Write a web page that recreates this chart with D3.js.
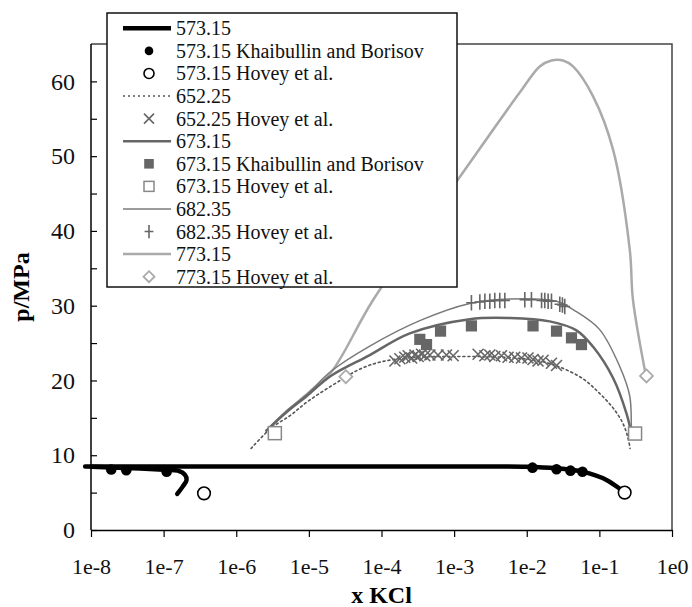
<!DOCTYPE html>
<html>
<head>
<meta charset="utf-8">
<script src="https://cdn.jsdelivr.net/npm/d3@7"></script>
<style>
  body { margin: 0; background: #fff; }
  svg text { font-family: "Liberation Serif", "Times New Roman", Times, "DejaVu Serif", serif; }
</style>
</head>
<body>
<div id="chart"></div>
<script>
// ---- data (x = mole fraction KCl, p in MPa) ----
const line573 = [[8.3e-9, 8.48], [1e-4, 8.48], [1e-3, 8.48], [0.01, 8.47], [0.0257, 8.25], [0.058, 7.8], [0.125, 6.7], [0.223, 5.0]];
const branch573 = [[1e-8, 8.45], [3e-8, 8.3], [1e-7, 8.05], [1.57e-7, 7.94], [1.97e-7, 7.37], [2.07e-7, 6.7], [1.83e-7, 5.8], [1.54e-7, 4.82]];
const khai573 = [[1.9e-8, 8.1], [3.06e-8, 8.0], [1.1e-7, 7.8], [0.012, 8.34], [0.0257, 8.13], [0.04, 7.94], [0.0585, 7.8]];
const hovey573 = [[3.6e-7, 4.9], [0.223, 5.0]];

const line652 = [[1.6e-6, 10.9], [3e-6, 13.6], [5.5e-6, 15.3], [1e-5, 17.3], [2.7e-5, 20.0], [5e-5, 21.5], [1e-4, 22.5], [3e-4, 23.1], [1e-3, 23.2], [5e-3, 23.1], [0.015, 22.6], [0.03, 21.7], [0.06, 20.2], [0.1, 18.3], [0.155, 16.3], [0.21, 14.3], [0.245, 12.5], [0.265, 10.9]];
const hovey652 = [[1.53e-4, 22.6], [1.79e-4, 22.9], [2.09e-4, 23.1], [2.33e-4, 23.3], [2.6e-4, 23.0], [2.88e-4, 23.4], [3.2e-4, 23.2], [3.56e-4, 23.5], [3.95e-4, 23.3], [4.64e-4, 23.4], [6.0e-4, 23.4], [7.85e-4, 23.4], [9.7e-4, 23.3], [2.14e-3, 23.5], [2.65e-3, 23.3], [3.1e-3, 23.4], [3.63e-3, 23.2], [4.49e-3, 23.3], [5.53e-3, 23.1], [6.84e-3, 23.1], [8.46e-3, 23.0], [0.0104, 23.0], [0.0122, 22.8], [0.0143, 22.6], [0.0168, 22.7], [0.0219, 22.3], [0.0257, 22.0]];

const line673 = [[2.6e-6, 13.3], [5e-6, 15.8], [9.3e-6, 17.9], [2e-5, 20.6], [6.9e-5, 23.4], [2.45e-4, 26.3], [1.64e-3, 28.2], [5.85e-3, 28.35], [0.0207, 27.9], [0.0483, 26.7], [0.082, 24.5], [0.155, 20.3], [0.236, 15.6], [0.276, 12.9]];
const khai673 = [[3.37e-4, 25.5], [4.17e-4, 24.8], [6.5e-4, 26.6], [1.73e-3, 27.3], [0.0122, 27.3], [0.0257, 26.6], [0.0413, 25.7], [0.0567, 24.8]];
const hovey673 = [[3.4e-6, 12.95], [0.31, 12.9]];

const line682 = [[2.6e-6, 13.3], [5e-6, 16.0], [9.3e-6, 18.1], [2e-5, 21.2], [6.9e-5, 24.6], [3.37e-4, 28.0], [1.64e-3, 30.3], [5.85e-3, 30.9], [0.0257, 30.6], [0.0483, 29.2], [0.101, 26.8], [0.19, 21.9], [0.262, 17.9], [0.276, 13.8], [0.28, 12.7]];
const hovey682 = [[1.73e-3, 30.4], [2.26e-3, 30.5], [2.65e-3, 30.6], [3.1e-3, 30.6], [3.63e-3, 30.7], [4.25e-3, 30.7], [4.99e-3, 30.7], [9.4e-3, 30.8], [0.0116, 30.8], [0.016, 30.7], [0.0177, 30.7], [0.0197, 30.6], [0.0219, 30.6], [0.0285, 30.2], [0.031, 30.1], [0.0334, 29.9]];

const line773 = [[2.6e-6, 13.3], [5e-6, 15.9], [1e-5, 18.4], [2.06e-5, 21.2], [7.7e-5, 30.8], [1.08e-3, 46.6], [8e-3, 58.5], [0.0151, 62.0], [0.0219, 62.8], [0.0316, 62.8], [0.0434, 62.0], [0.0819, 58.0], [0.154, 50.9], [0.262, 37.5], [0.29, 30.8], [0.43, 21.0]];
const hovey773 = [[3.23e-5, 20.5], [0.445, 20.6]];

const xTicks = [1e-8, 1e-7, 1e-6, 1e-5, 1e-4, 1e-3, 1e-2, 1e-1, 1];
const xTickLabels = ["1e-8", "1e-7", "1e-6", "1e-5", "1e-4", "1e-3", "1e-2", "1e-1", "1e0"];
const yTicks = [0, 5, 10, 15, 20, 25, 30, 35, 40, 45, 50, 55, 60];

const legendLabels = [
  "573.15", "573.15 Khaibullin and Borisov", "573.15 Hovey et al.",
  "652.25", "652.25 Hovey et al.",
  "673.15", "673.15 Khaibullin and Borisov", "673.15 Hovey et al.",
  "682.35", "682.35 Hovey et al.",
  "773.15", "773.15 Hovey et al."
];

const serif = "'Liberation Serif', 'Times New Roman', Times, 'DejaVu Serif', serif";

function drawChart() {
  const fullWidth = 692,
    fullHeight = 607;
  const plot = { left: 91, right: 672, top: 44, bottom: 530 };

  const svg = d3
    .select("#chart")
    .append("svg")
    .attr("width", fullWidth)
    .attr("height", fullHeight)
    .attr("font-family", serif);

  const x = d3.scaleLog().domain([1e-8, 1]).range([plot.left, plot.right]);
  const y = d3.scaleLinear().domain([0, 65]).range([plot.bottom, plot.top]);

  const line = d3
    .line()
    .x((d) => x(d[0]))
    .y((d) => y(d[1]))
    .curve(d3.curveCatmullRom.alpha(0.5));

  // frame (top + right)
  svg
    .append("path")
    .attr("d", `M${plot.left},${plot.top}H${plot.right}V${plot.bottom}`)
    .attr("fill", "none")
    .attr("stroke", "#444")
    .attr("stroke-width", 1.5);

  // curves
  const curves = [
    { data: line773, color: "#aaa", width: 2.5, dash: null },
    { data: line682, color: "#7a7a7a", width: 1.5, dash: null },
    { data: line673, color: "#666", width: 2.5, dash: null },
    { data: line652, color: "#555", width: 1.6, dash: "2,3" },
    { data: line573, color: "#000", width: 4.5, dash: null },
    { data: branch573, color: "#000", width: 4.5, dash: null },
  ];

  svg
    .selectAll("path.curve")
    .data(curves)
    .enter()
    .append("path")
    .attr("class", "curve")
    .attr("d", (d) => line(d.data))
    .attr("fill", "none")
    .attr("stroke", (d) => d.color)
    .attr("stroke-width", (d) => d.width)
    .attr("stroke-dasharray", (d) => d.dash)
    .attr("stroke-linecap", "round");

  // marker helpers
  function drawMarker(g, type, s) {
    if (type === "dot") {
      g.append("circle").attr("r", s).attr("fill", "#000");
    } else if (type === "circle") {
      g.append("circle").attr("r", s).attr("fill", "#fff").attr("stroke", "#000").attr("stroke-width", 1.6);
    } else if (type === "cross") {
      g.append("path")
        .attr("d", `M${-s},${-s}L${s},${s}M${-s},${s}L${s},${-s}`)
        .attr("stroke", "#666").attr("stroke-width", 1.6).attr("fill", "none");
    } else if (type === "fsquare") {
      g.append("rect").attr("x", -s).attr("y", -s).attr("width", 2 * s).attr("height", 2 * s).attr("fill", "#666");
    } else if (type === "osquare") {
      g.append("rect").attr("x", -s).attr("y", -s).attr("width", 2 * s).attr("height", 2 * s)
        .attr("fill", "#fff").attr("stroke", "#888").attr("stroke-width", 1.5);
    } else if (type === "plus") {
      g.append("path")
        .attr("d", `M${-s * 0.8},0H${s * 0.8}M0,${-s * 1.2}V${s * 1.2}`)
        .attr("stroke", "#666").attr("stroke-width", 1.6).attr("fill", "none");
    } else if (type === "diamond") {
      g.append("path")
        .attr("d", `M0,${-s}L${s},0L0,${s}L${-s},0Z`)
        .attr("fill", "#fff").attr("stroke", "#aaa").attr("stroke-width", 1.8);
    }
  }

  const markerSets = [
    { data: hovey773, type: "diamond", size: 6.5 },
    { data: hovey673, type: "osquare", size: 6.5 },
    { data: khai673, type: "fsquare", size: 5.6 },
    { data: hovey682, type: "plus", size: 6.5 },
    { data: hovey652, type: "cross", size: 5.5 },
    { data: khai573, type: "dot", size: 5.3 },
    { data: hovey573, type: "circle", size: 6.3 },
  ];

  markerSets.forEach((set) => {
    svg
      .append("g")
      .selectAll("g")
      .data(set.data)
      .enter()
      .append("g")
      .attr("transform", (d) => `translate(${x(d[0])},${y(d[1])})`)
      .each(function () {
        drawMarker(d3.select(this), set.type, set.size);
      });
  });

  // axes
  const xAxis = svg
    .append("g")
    .attr("transform", `translate(0,${plot.bottom})`)
    .call(
      d3.axisBottom(x)
        .tickValues(xTicks)
        .tickFormat((d, i) => xTickLabels[i])
        .tickSize(7)
        .tickSizeOuter(0)
        .tickPadding(21)
    )
    .attr("font-family", serif);
  xAxis.select(".domain").attr("stroke", "#000").attr("stroke-width", 1.5);
  xAxis.selectAll(".tick line").attr("stroke", "#000").attr("stroke-width", 1.2);
  xAxis.selectAll(".tick text")
    .attr("fill", "#111")
    .attr("font-size", 22)
    .attr("font-family", serif);

  const yAxis = svg
    .append("g")
    .attr("transform", `translate(${plot.left},0)`)
    .call(
      d3.axisLeft(y)
        .tickValues(yTicks)
        .tickFormat((d) => (d % 10 === 0 ? d : ""))
        .tickSize(-6)
        .tickSizeOuter(0)
        .tickPadding(16)
    )
    .attr("font-family", serif);
  yAxis.select(".domain").attr("stroke", "#000").attr("stroke-width", 1.5)
    .attr("d", `M0,${plot.bottom}V${plot.top}`);
  yAxis.selectAll(".tick line").attr("stroke", "#000").attr("stroke-width", 1.2);
  yAxis.selectAll(".tick text")
    .attr("fill", "#111")
    .attr("font-size", 24)
    .attr("font-family", serif);

  // axis titles
  svg
    .append("text")
    .attr("x", (plot.left + plot.right) / 2)
    .attr("y", 603)
    .attr("font-family", serif)
    .style("text-anchor", "middle")
    .style("font-size", "24px")
    .style("font-weight", "bold")
    .text("x KCl");

  svg
    .append("text")
    .attr("transform", "rotate(-90)")
    .attr("x", -(plot.top + plot.bottom) / 2)
    .attr("y", 29)
    .attr("font-family", serif)
    .style("text-anchor", "middle")
    .style("font-size", "24px")
    .style("font-weight", "bold")
    .text("p/MPa");

  // legend
  const legendBox = { x: 107, y: 13, w: 350, h: 274 };
  const legend = svg.append("g");
  legend
    .append("rect")
    .attr("x", legendBox.x)
    .attr("y", legendBox.y)
    .attr("width", legendBox.w)
    .attr("height", legendBox.h)
    .attr("fill", "#fff")
    .attr("stroke", "#111")
    .attr("stroke-width", 1.5);

  const legendItems = [
    { kind: "line", color: "#000", width: 4.5 },
    { kind: "dot", size: 4.3 },
    { kind: "circle", size: 5 },
    { kind: "line", color: "#555", width: 1.6, dash: "2,3" },
    { kind: "cross", size: 5 },
    { kind: "line", color: "#666", width: 2.5 },
    { kind: "fsquare", size: 4.8 },
    { kind: "osquare", size: 5 },
    { kind: "line", color: "#7a7a7a", width: 1.5 },
    { kind: "plus", size: 5.5 },
    { kind: "line", color: "#aaa", width: 2.5 },
    { kind: "diamond", size: 5.5 },
  ];

  const rowY = d3.scaleLinear().domain([0, 11]).range([28.3, 276.7]);

  legendItems.forEach((item, i) => {
    const cy = rowY(i);
    if (item.kind === "line") {
      legend
        .append("line")
        .attr("x1", 123)
        .attr("x2", 171)
        .attr("y1", cy)
        .attr("y2", cy)
        .attr("stroke", item.color)
        .attr("stroke-width", item.width)
        .attr("stroke-dasharray", item.dash || null);
    } else {
      const g = legend.append("g").attr("transform", `translate(149,${cy})`);
      drawMarker(g, item.kind, item.size);
    }
    legend
      .append("text")
      .attr("x", 176)
      .attr("y", cy + 7)
      .attr("font-family", serif)
      .style("font-size", "20px")
      .attr("fill", "#111")
      .text(legendLabels[i]);
  });
}

drawChart();
</script>
</body>
</html>
